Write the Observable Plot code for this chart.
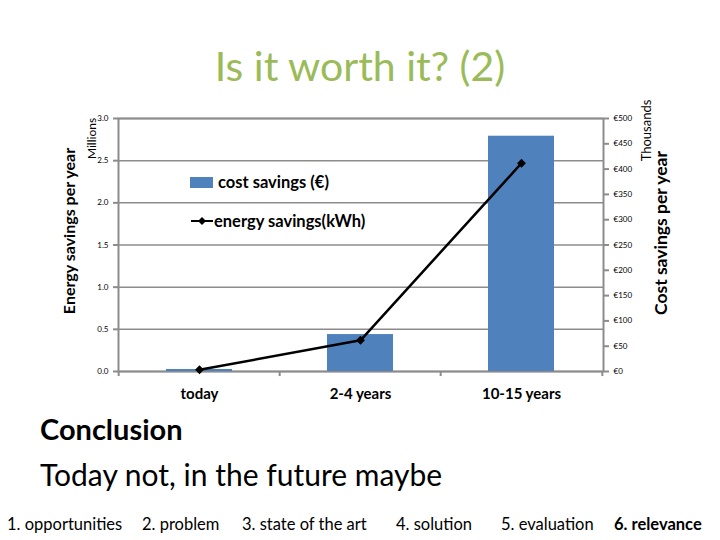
<!DOCTYPE html>
<html>
<head>
<meta charset="utf-8">
<script src="https://cdn.jsdelivr.net/npm/d3@7"></script>
<script src="https://cdn.jsdelivr.net/npm/@observablehq/plot@0.6"></script>
<style>
  html, body { margin: 0; padding: 0; background: #fff; }
  #wrap { position: relative; width: 720px; height: 540px; font-family: Lato, "Open Sans", sans-serif; overflow: hidden; }
  .abs { position: absolute; white-space: nowrap; line-height: 1; }
  #chart { position: absolute; left: 0; top: 95px; }
  .leg { display: flex; align-items: center; font-size: 16.5px; color: #000; font-weight: 700; }
</style>
</head>
<body>
<div id="wrap">
  <div class="abs" id="title" style="left:0;width:720px;text-align:center;top:45px;font-size:41px;color:#9bbb59;"></div>
  <div id="chart"></div>
  <div class="abs leg" style="left:190px;top:174px;">
    <span style="display:inline-block;width:23px;height:11px;background:#4f81bd;margin-right:5px;"></span><span id="leg1"></span>
  </div>
  <div class="abs leg" style="left:190px;top:213px;">
    <svg width="24" height="14" style="margin-right:0px"><line x1="1" y1="7" x2="23" y2="7" stroke="#000" stroke-width="2"/><path d="M12,3 L16,7 L12,11 L8,7 Z" fill="#000"/></svg><span id="leg2"></span>
  </div>
  <div class="abs" id="concl" style="left:40px;top:414px;font-size:29px;font-weight:700;"></div>
  <div class="abs" id="sub" style="left:40px;top:459px;font-size:30px;"></div>
  <div id="nav"></div>
</div>
<script>
// ---- data ----
const categories = ["today", "2-4 years", "10-15 years"];
const costSavings = [4, 73, 465];          // € thousands per year
const energySavings = [0.02, 0.37, 2.47];  // kWh millions per year
const energyTicks = [0, 0.5, 1.0, 1.5, 2.0, 2.5, 3.0];
const costTicks = [0, 50, 100, 150, 200, 250, 300, 350, 400, 450, 500];
const titleText = "Is it worth it? (2)";
const legendLabels = ["cost savings (€)", "energy savings(kWh)"];
const leftTitle = "Energy savings per year";
const leftUnit = "Millions";
const rightTitle = "Cost savings per year";
const rightUnit = "Thousands";
const conclusion = "Conclusion";
const conclusionText = "Today not, in the future maybe";
const navItems = ["1. opportunities", "2. problem", "3. state of the art", "4. solution", "5. evaluation", "6. relevance"];
const navX = [7, 142, 242, 396, 501, 614];

document.getElementById("title").textContent = titleText;
document.getElementById("leg1").textContent = legendLabels[0];
document.getElementById("leg2").textContent = legendLabels[1];
document.getElementById("concl").textContent = conclusion;
document.getElementById("sub").textContent = conclusionText;
const nav = document.getElementById("nav");
navItems.forEach((t, i) => {
  const d = document.createElement("div");
  d.className = "abs";
  d.style.left = navX[i] + "px";
  d.style.top = "516px";
  d.style.fontSize = "16.5px";
  if (i === navItems.length - 1) d.style.fontWeight = "700";
  d.textContent = t;
  nav.appendChild(d);
});

const energyMax = 3, costMax = 500;
const ratio = energyMax / costMax;
const rows = categories.map((c, i) => ({cat: c, cost: costSavings[i], energy: energySavings[i]}));

const W = 720, H = 310, mL = 118, mR = 117, mT = 23, mB = 34;
const step = (W - mL - mR) / categories.length;
const grey = "#8c8c8c";

const chart = Plot.plot({
  width: W, height: H,
  marginLeft: mL, marginRight: mR, marginTop: mT, marginBottom: mB,
  style: {fontFamily: "Lato, sans-serif", color: "#000", background: "transparent", overflow: "visible"},
  x: {domain: categories, paddingInner: 0.59, paddingOuter: 0.295, label: null},
  y: {domain: [0, energyMax], label: null},
  marks: [
    Plot.gridY(energyTicks, {stroke: grey, strokeOpacity: 1, strokeWidth: 1.5}),
    Plot.frame({stroke: grey, strokeWidth: 2}),
    Plot.ruleX(categories, {x: d => d, dx: -step / 2, y1: 0, y2: -0.06, stroke: grey, strokeWidth: 2}),
    Plot.ruleX([categories[categories.length - 1]], {x: d => d, dx: step / 2, y1: 0, y2: -0.06, stroke: grey, strokeWidth: 2}),
    Plot.barY(rows, {x: "cat", y: d => d.cost * ratio, fill: "#4f81bd"}),
    Plot.line(rows, {x: "cat", y: "energy", stroke: "#000", strokeWidth: 2.5}),
    Plot.dot(rows, {x: "cat", y: "energy", symbol: "diamond2", r: 4, fill: "#000", stroke: "none"}),
    Plot.axisY({anchor: "left", ticks: energyTicks, tickFormat: d3.format(".1f"), tickSize: 5, tickPadding: 5, fontSize: 8, stroke: grey, strokeWidth: 2, label: null}),
    Plot.axisY({anchor: "right", ticks: costTicks.map(c => c * ratio), tickFormat: v => "€" + Math.round(v / ratio), tickSize: 5, tickPadding: 5, fontSize: 8, stroke: grey, strokeWidth: 2, label: null}),
    Plot.axisX({tickSize: 0, tickPadding: 17, fontSize: 15, fontWeight: "bold", label: null}),
    Plot.text([leftTitle], {frameAnchor: "left", textAnchor: "middle", rotate: -90, dx: -49, dy: -14, fontSize: 16, fontWeight: "bold"}),
    Plot.text([leftUnit], {frameAnchor: "top-left", textAnchor: "middle", rotate: -90, dx: -31, dy: 20, fontSize: 12}),
    Plot.text([rightUnit], {frameAnchor: "top-right", textAnchor: "middle", rotate: -90, dx: 38, dy: 12, fontSize: 13}),
    Plot.text([rightTitle], {frameAnchor: "right", textAnchor: "middle", rotate: -90, dx: 58, dy: -12, fontSize: 17.5, fontWeight: "bold"})
  ]
});
document.getElementById("chart").appendChild(chart);
</script>
</body>
</html>
